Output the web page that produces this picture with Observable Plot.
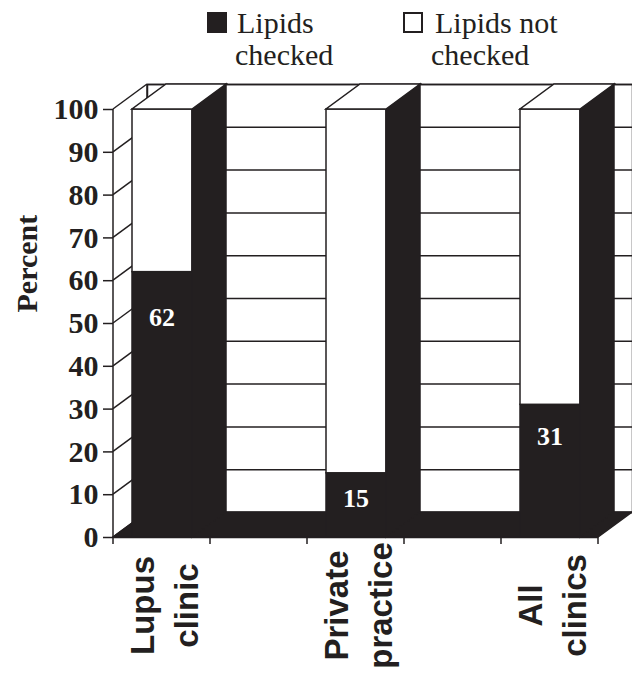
<!DOCTYPE html>
<html>
<head>
<meta charset="utf-8">
<script src="https://cdn.jsdelivr.net/npm/d3@7"></script>
<script src="https://cdn.jsdelivr.net/npm/@observablehq/plot@0.6"></script>
<style>
  html, body { margin: 0; padding: 0; background: #fff; }
  #wrap { width: 632px; }
  #legend { position: relative; width: 632px; height: 80px; font-family: "Liberation Serif", serif; font-size: 30px; color: #231f20; }
  #legend .t { position: absolute; line-height: 32px; white-space: nowrap; }
  #legend .sw { position: absolute; width: 20px; height: 21px; box-sizing: border-box; }
  svg { display: block; }
</style>
</head>
<body>
<div id="wrap">
  <div id="legend"></div>
  <div id="chart"></div>
</div>
<script>
// ---- data ----
const categories = ["Lupus clinic", "Private practice", "All clinics"];
const categoryLines = ["Lupus\nclinic", "Private\npractice", "All\nclinics"];
const slots = ["Lupus clinic", "gap-1", "Private practice", "gap-2", "All clinics"];
const series = ["Lipids checked", "Lipids not checked"];
const checked = [62, 15, 31];
const notChecked = [38, 85, 69];
const yTicks = [0, 10, 20, 30, 40, 50, 60, 70, 80, 90, 100];

const INK = "#231f20";
const DX = 34, DY = -25;          // depth offset of the 3D look
const IN_L = 19, IN_R = 18;       // bar insets inside its band

const rows = categories.flatMap((c, i) => [
  {cat: c, status: series[0], value: checked[i]},
  {cat: c, status: series[1], value: notChecked[i]}
]);
const labels = categories.map((c, i) => ({cat: c, v: checked[i], lines: categoryLines[i]}));

// ---- legend (HTML, above the svg) ----
const legend = document.getElementById("legend");
function add(cls, css, text) {
  const d = document.createElement("div");
  d.className = cls; d.style.cssText = css; if (text) d.textContent = text;
  legend.appendChild(d);
}
add("sw", `left:207px;top:12px;background:${INK};`);
add("t", "left:237px;top:7px;", "Lipids");
add("t", "left:235px;top:39px;", "checked");
add("sw", `left:403px;top:12px;background:#fff;border:2px solid ${INK};`);
add("t", "left:435px;top:7px;", "Lipids not");
add("t", "left:431px;top:39px;", "checked");

// ---- helper to get band geometry ----
function geom(scales, dims) {
  const x = scales.x, y = scales.y;
  const bw = typeof x.bandwidth === "function" ? x.bandwidth()
    : (dims.width - dims.marginLeft - dims.marginRight) / slots.length;
  return {x, y, bw, x0: dims.marginLeft, x1: dims.width - dims.marginRight};
}

// left wall diagonals + black floor
function wallsAndFloor(index, scales, values, dims) {
  const {y, x0, x1} = geom(scales, dims);
  const g = d3.create("svg:g");
  for (const t of yTicks) {
    g.append("line").attr("x1", x0).attr("y1", y(t)).attr("x2", x0 + DX).attr("y2", y(t) + DY)
      .attr("stroke", INK).attr("stroke-width", 1.5);
  }
  g.append("line").attr("x1", x0 + DX).attr("y1", y(100) + DY).attr("x2", x0 + DX).attr("y2", y(0) + DY)
    .attr("stroke", INK).attr("stroke-width", 1.5);
  g.append("path")
    .attr("d", `M${x0},${y(0)}L${x1},${y(0)}L${x1 + DX},${y(0) + DY}L${x0 + DX},${y(0) + DY}Z`)
    .attr("fill", INK).attr("stroke", INK).attr("stroke-width", 1.5);
  return g.node();
}

// side and top faces of the bars
function barFaces(index, scales, values, dims) {
  const {x, y, bw} = geom(scales, dims);
  const g = d3.create("svg:g");
  categories.forEach((c, i) => {
    const xa = x(c) + IN_L, xb = x(c) + bw - IN_R;
    const total = checked[i] + notChecked[i];
    const yt = y(total), yb = y(0);
    g.append("path")
      .attr("d", `M${xb},${yt}L${xb + DX},${yt + DY}L${xb + DX},${yb + DY}L${xb},${yb}Z`)
      .attr("fill", INK).attr("stroke", INK).attr("stroke-width", 1.5);
    g.append("path")
      .attr("d", `M${xa},${yt}L${xb},${yt}L${xb + DX},${yt + DY}L${xa + DX},${yt + DY}Z`)
      .attr("fill", "#fff").attr("stroke", INK).attr("stroke-width", 1.5);
  });
  return g.node();
}

// front axis line and x ticks at band boundaries
function frontAxes(index, scales, values, dims) {
  const {x, y, bw} = geom(scales, dims);
  const g = d3.create("svg:g").attr("stroke", INK).attr("stroke-width", 1.5);
  g.append("line").attr("x1", dims.marginLeft).attr("x2", dims.marginLeft)
    .attr("y1", y(100)).attr("y2", y(0));
  const edges = slots.map(s => x(s)).concat([x(slots[slots.length - 1]) + bw]);
  for (const e of edges) {
    g.append("line").attr("x1", e).attr("x2", e).attr("y1", y(0)).attr("y2", y(0) + 7);
  }
  return g.node();
}

const chart = Plot.plot({
  width: 632,
  height: 598,
  marginTop: 29,
  marginBottom: 141,
  marginLeft: 113,
  marginRight: 34,
  style: {background: "transparent", color: INK},
  x: {type: "band", domain: slots, padding: 0, axis: null},
  y: {domain: [0, 100], axis: null},
  color: {domain: series, range: [INK, "#ffffff"]},
  marks: [
    // back wall
    Plot.frame({fill: "#fff", stroke: INK, strokeWidth: 1.5, dx: DX, dy: DY}),
    Plot.ruleY(yTicks, {stroke: INK, strokeWidth: 1.5, dx: DX, dy: DY}),
    wallsAndFloor,
    // front faces of stacked bars
    Plot.rectY(rows, {x: "cat", y: "value", fill: "status", stroke: INK, strokeWidth: 1.5,
      insetLeft: IN_L, insetRight: IN_R}),
    barFaces,
    frontAxes,
    Plot.ruleY([0], {stroke: INK, strokeWidth: 1.5}),
    Plot.axisY({ticks: yTicks, tickSize: 10, tickPadding: 5, tickFormat: d => String(d),
      fontSize: 30, fontWeight: "bold", fontFamily: "Liberation Serif", stroke: INK, strokeWidth: 1.5,
      label: null}),
    Plot.text(["Percent"], {frameAnchor: "left", rotate: -90, dx: -86, dy: -11,
      fontSize: 30, fontWeight: "bold", fontFamily: "Liberation Serif", lineAnchor: "middle", fill: INK}),
    // value labels on the black segments
    Plot.text(labels, {x: "cat", y: d => d.v * 0.9, dy: 19, text: d => String(d.v), fill: "#fff",
      fontSize: 26, fontWeight: "bold", fontFamily: "Liberation Serif", lineAnchor: "middle"}),
    // category labels
    Plot.text(labels, {x: "cat", text: "lines", frameAnchor: "bottom", dy: 68, rotate: -90,
      textAnchor: "middle", lineAnchor: "middle", lineHeight: 1.333,
      fontSize: 33, fontWeight: "bold", fontFamily: "Liberation Sans", fill: INK})
  ]
});
document.getElementById("chart").appendChild(chart);
</script>
</body>
</html>
